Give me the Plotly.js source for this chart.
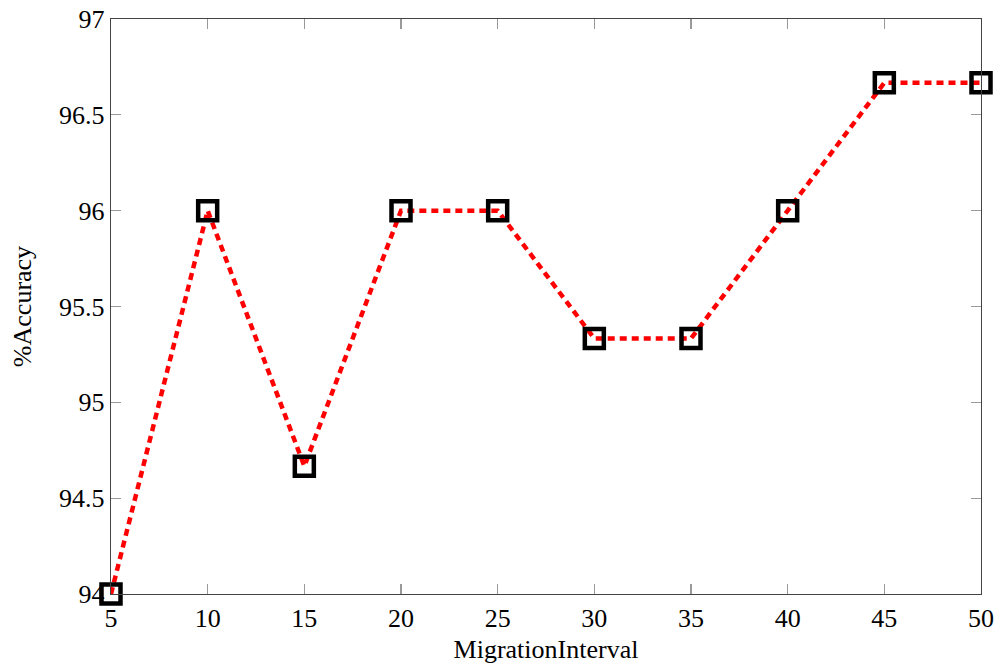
<!DOCTYPE html>
<html>
<head>
<meta charset="utf-8">
<script src="https://cdn.plot.ly/plotly-3.0.1.min.js"></script>
<style>
  html, body { margin: 0; padding: 0; background: #fff; }
  #chart { width: 1001px; height: 670px; }
</style>
</head>
<body>
<div id="chart"></div>
<script>
// Accuracy measured for each migration interval
const migrationInterval = [5, 10, 15, 20, 25, 30, 35, 40, 45, 50];
const accuracy = [94, 96, 94.667, 96, 96, 95.333, 95.333, 96, 96.667, 96.667];

const xTicks = [5, 10, 15, 20, 25, 30, 35, 40, 45, 50];
const yTicks = [94, 94.5, 95, 95.5, 96, 96.5, 97];
const yTickLabels = ['94', '94.5', '95', '95.5', '96', '96.5', '97'];

const serif = '"Liberation Serif", "DejaVu Serif", serif';

const trace = {
  x: migrationInterval,
  y: accuracy,
  type: 'scatter',
  mode: 'lines+markers',
  cliponaxis: false,
  line: { color: '#ff0000', width: 4.5, dash: '7px,5px' },
  marker: {
    symbol: 'square-open',
    size: 19,
    color: '#000000',
    line: { color: '#000000', width: 4.5 }
  },
  hoverinfo: 'x+y'
};

const axisCommon = {
  showgrid: false,
  zeroline: false,
  showline: true,
  linecolor: '#444',
  linewidth: 1.3,
  mirror: 'ticks',
  ticks: 'inside',
  ticklen: 10,
  tickwidth: 1.2,
  tickcolor: '#999',
  tickfont: { family: serif, size: 26, color: '#000' }
};

const layout = {
  width: 1001,
  height: 670,
  margin: { l: 111, r: 20, t: 19, b: 76 },
  paper_bgcolor: '#ffffff',
  plot_bgcolor: '#ffffff',
  showlegend: false,
  xaxis: Object.assign({}, axisCommon, {
    range: [5, 50],
    tickmode: 'array',
    tickvals: xTicks,
    ticktext: xTicks.map(String),
    ticklabelstandoff: 0,
    title: { text: 'MigrationInterval', font: { family: serif, size: 26, color: '#000' }, standoff: 8 }
  }),
  yaxis: Object.assign({}, axisCommon, {
    range: [94, 97],
    tickmode: 'array',
    tickvals: yTicks,
    ticktext: yTickLabels,
    title: { text: '%Accuracy', font: { family: serif, size: 26, color: '#000' }, standoff: 20 }
  })
};

Plotly.newPlot('chart', [trace], layout, { displayModeBar: false, staticPlot: true });
</script>
</body>
</html>
